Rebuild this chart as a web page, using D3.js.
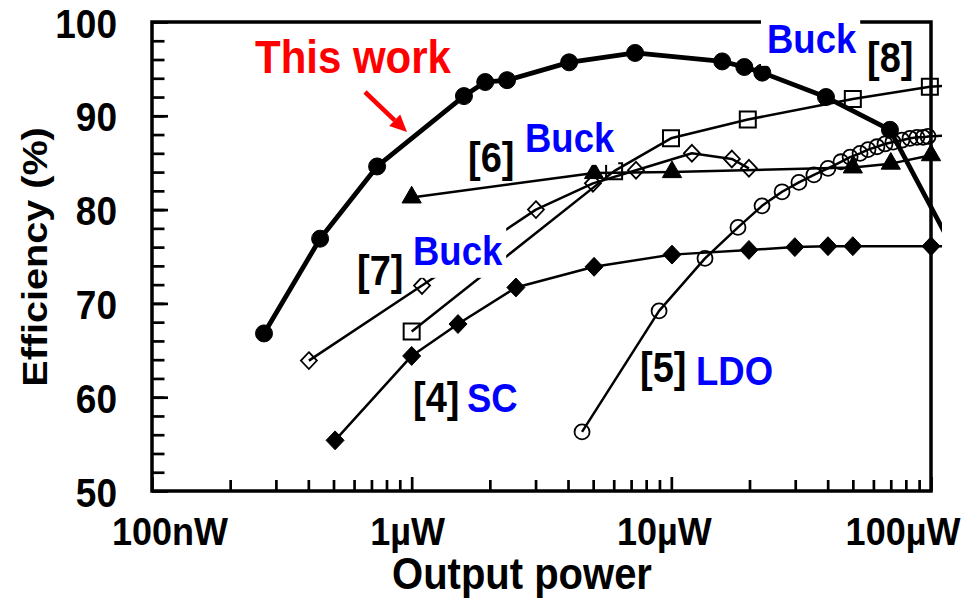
<!DOCTYPE html>
<html>
<head>
<meta charset="utf-8">
<script src="https://cdn.jsdelivr.net/npm/d3@7"></script>
<style>
  body { margin: 0; background: #fff; }
  text { font-family: "Liberation Sans", Arial, Helvetica, sans-serif; font-weight: bold; }
</style>
</head>
<body>
<div id="chart-area"></div>
<script>
// data: [output power (W), efficiency (%)]
const thisWork = [
  [2.70e-7, 66.8], [4.44e-7, 76.9], [7.36e-7, 84.6], [1.59e-6, 92.1], [1.92e-6, 93.6],
  [2.33e-6, 93.8], [4.04e-6, 95.7], [7.25e-6, 96.7], [1.57e-5, 95.8], [1.91e-5, 95.2],
  [2.24e-5, 94.6], [3.94e-5, 92.0], [6.95e-5, 88.5], [1.5e-4, 71.1]
];
const ref6Buck = [
  [1.0e-6, 81.3], [5.04e-6, 83.9], [1.006e-5, 84.0], [5.0e-5, 84.5], [7.0e-5, 84.9], [1.0e-4, 85.8]
];
const ref8Buck = [
  [1.0e-6, 67.0], [6.02e-6, 84.1], [9.97e-6, 87.6], [1.97e-5, 89.6], [5.0e-5, 91.8],
  [9.9e-5, 93.1], [1.3e-4, 93.3]
];
const ref7Buck = [
  [4.02e-7, 63.9], [1.096e-6, 71.9], [3.01e-6, 80.0], [4.99e-6, 82.8], [7.31e-6, 84.2],
  [1.2e-5, 86.0], [1.71e-5, 85.4], [1.99e-5, 84.4]
];
const ref4SC = [
  [5.07e-7, 55.4], [1.0e-6, 64.4], [1.508e-6, 67.8], [2.52e-6, 71.7], [5.04e-6, 73.9],
  [1.006e-5, 75.2], [1.99e-5, 75.7], [2.99e-5, 76.0], [4.01e-5, 76.1], [5.0e-5, 76.1],
  [1.0e-4, 76.1], [1.3e-4, 76.1]
];
const ref5LDO = [
  [4.53e-6, 56.3], [8.97e-6, 69.2], [1.348e-5, 74.8], [1.806e-5, 78.1], [2.235e-5, 80.4],
  [2.67e-5, 81.9], [3.10e-5, 82.9], [3.54e-5, 83.7], [4.01e-5, 84.4], [4.5e-5, 85.1],
  [4.88e-5, 85.6], [5.33e-5, 86.0], [5.72e-5, 86.4], [6.19e-5, 86.7], [6.65e-5, 87.0],
  [7.14e-5, 87.2], [7.73e-5, 87.4], [8.3e-5, 87.6], [8.83e-5, 87.7], [9.32e-5, 87.7],
  [9.74e-5, 87.8], [1.3e-4, 88.0]
];

const xTickValues = [1e-7, 1e-6, 1e-5, 1e-4];
const xTickLabels = ["100nW", "1\u00b5W", "10\u00b5W", "100\u00b5W"];
const yTickValues = [50, 60, 70, 80, 90, 100];

const margin = { left: 152, right: 45, top: 22, bottom: 107 };
const width = 976 - margin.left - margin.right;
const height = 598 - margin.top - margin.bottom;
const stretch = 1.1; // the source figure is slightly taller than wide

const svg = d3.select("#chart-area")
  .append("svg")
  .attr("width", 976)
  .attr("height", 598);

const g = svg.append("g")
  .attr("transform", `translate(${margin.left}, ${margin.top})`);

const x = d3.scaleLog().domain([1e-7, 1e-4]).range([0, width]);
const y = d3.scaleLinear().domain([50, 100]).range([height, 0]);

// text helper: bold, slightly stretched vertically like the source
function label(parent, px, py, str, size, color, anchor, rotate) {
  const tr = rotate
    ? `translate(${px},${py}) rotate(-90) scale(${stretch},1)`
    : `translate(${px},${py}) scale(1,${stretch})`;
  return parent.append("text")
    .attr("transform", tr)
    .attr("font-size", size + "px")
    .attr("fill", color || "#000")
    .attr("text-anchor", anchor || "start")
    .text(str);
}

// frame
g.append("rect")
  .attr("width", width)
  .attr("height", height)
  .attr("fill", "none")
  .attr("stroke", "#000")
  .attr("stroke-width", 3.5);

// ticks (inward)
const minorX = [];
[1e-7, 1e-6, 1e-5].forEach(d => { for (let k = 2; k <= 9; k++) minorX.push(d * k); });

function tickGroup(axis, transform) {
  const a = g.append("g").attr("transform", transform).call(axis);
  a.select(".domain").remove();
  a.selectAll("line").attr("stroke", "#000").attr("stroke-width", 2.7);
  a.selectAll("text").remove();
  return a;
}
tickGroup(d3.axisBottom(x).tickValues(minorX).tickSize(-11), `translate(0,${height})`);
tickGroup(d3.axisBottom(x).tickValues(xTickValues).tickSize(-14), `translate(0,${height})`);
tickGroup(d3.axisLeft(y).tickValues(d3.range(52, 100, 2)).tickSize(-12.5), "translate(0,0)");
tickGroup(d3.axisLeft(y).tickValues(yTickValues).tickSize(-16), "translate(0,0)");

// tick labels
const xLabelShift = [18, -4, -7, -28];
xTickValues.forEach((v, i) => {
  label(g, x(v) + xLabelShift[i], height + 54, xTickLabels[i], 36, "#000", "middle");
});
yTickValues.forEach(v => {
  label(g, -35, y(v) + 15.5, String(v), 37, "#000", "end");
});

// axis titles
label(svg, 522, 589, "Output power", 40, "#000", "middle");
label(svg, 47, 257, "Efficiency (%)", 36, "#000", "middle", true);

// series
const diamond = {
  draw(ctx, size) {
    const r = Math.sqrt(size) / 2;
    ctx.moveTo(0, -r * 1.05);
    ctx.lineTo(r, 0);
    ctx.lineTo(0, r * 1.05);
    ctx.lineTo(-r, 0);
    ctx.closePath();
  }
};

const series = [
  { data: ref5LDO, lw: 2.5, shape: "circle", r: 7.5, fill: "none", sw: 1.8 },
  { data: ref4SC, lw: 2.5, shape: diamond, size: 18 * 18, fill: "#000", sw: 1 },
  { data: ref7Buck, lw: 2.5, shape: diamond, size: 16 * 16, fill: "none", sw: 1.8 },
  { data: ref8Buck, lw: 2.5, shape: d3.symbolSquare, size: 16 * 16, fill: "none", sw: 2 },
  { data: ref6Buck, lw: 2.5, shape: d3.symbolTriangle, size: 160, fill: "#000", sw: 1 },
  { data: thisWork, lw: 4.8, shape: "circle", r: 8.5, fill: "#000", sw: 1 }
];

svg.append("clipPath").attr("id", "plot-clip")
  .append("rect")
  .attr("x", -20).attr("y", -20)
  .attr("width", 942 - margin.left + 20)
  .attr("height", height + 40);

const plot = g.append("g").attr("clip-path", "url(#plot-clip)");
const line = d3.line().x(d => x(d[0])).y(d => y(d[1]));

series.forEach(s => {
  plot.append("path")
    .datum(s.data)
    .attr("d", line)
    .attr("fill", "none")
    .attr("stroke", "#000")
    .attr("stroke-width", s.lw)
    .attr("stroke-linejoin", "round");

  if (s.shape === "circle") {
    plot.selectAll(null)
      .data(s.data)
      .enter()
      .append("circle")
      .attr("cx", d => x(d[0]))
      .attr("cy", d => y(d[1]))
      .attr("r", s.r)
      .attr("fill", s.fill)
      .attr("stroke", "#000")
      .attr("stroke-width", s.sw);
  } else {
    plot.selectAll(null)
      .data(s.data)
      .enter()
      .append("path")
      .attr("transform", d => `translate(${x(d[0])},${y(d[1])})`)
      .attr("d", d3.symbol().type(s.shape).size(s.size))
      .attr("fill", s.fill)
      .attr("stroke", "#000")
      .attr("stroke-width", s.sw);
  }
});

// annotations
function boxedLabel(px, py, str, size, color) {
  const w = str.length * size * 0.611;
  svg.append("rect")
    .attr("x", px - 6)
    .attr("y", py - size * stretch * 0.95)
    .attr("width", w + 10)
    .attr("height", size * stretch * 1.27)
    .attr("fill", "#fff");
  label(svg, px, py, str, size, color);
}

label(svg, 255, 73, "This work", 42, "#ff0000");

// red arrow
const tail = [365, 92], tip = [407, 132];
const ang = Math.atan2(tip[1] - tail[1], tip[0] - tail[0]);
const headLen = 17, headHalf = 8;
const base = [tip[0] - headLen * Math.cos(ang), tip[1] - headLen * Math.sin(ang)];
svg.append("line")
  .attr("x1", tail[0]).attr("y1", tail[1])
  .attr("x2", base[0]).attr("y2", base[1])
  .attr("stroke", "#ff0000")
  .attr("stroke-width", 4.5);
svg.append("path")
  .attr("d", `M${tip[0]},${tip[1]}L${base[0] - headHalf * Math.sin(ang)},${base[1] + headHalf * Math.cos(ang)}L${base[0] + headHalf * Math.sin(ang)},${base[1] - headHalf * Math.cos(ang)}Z`)
  .attr("fill", "#ff0000");

const blue = "#0000ff";
boxedLabel(767, 53, "Buck", 36.5, blue);
label(svg, 867, 72, "[8]", 38);
label(svg, 468, 172, "[6]", 38);
boxedLabel(525, 152, "Buck", 36.5, blue);
label(svg, 357, 285, "[7]", 38);
boxedLabel(413, 265, "Buck", 36.5, blue);
label(svg, 413, 412, "[4]", 38);
label(svg, 467, 412, "SC", 36.5, blue);
label(svg, 640, 382, "[5]", 38);
label(svg, 696, 385, "LDO", 36.5, blue);
</script>
</body>
</html>
